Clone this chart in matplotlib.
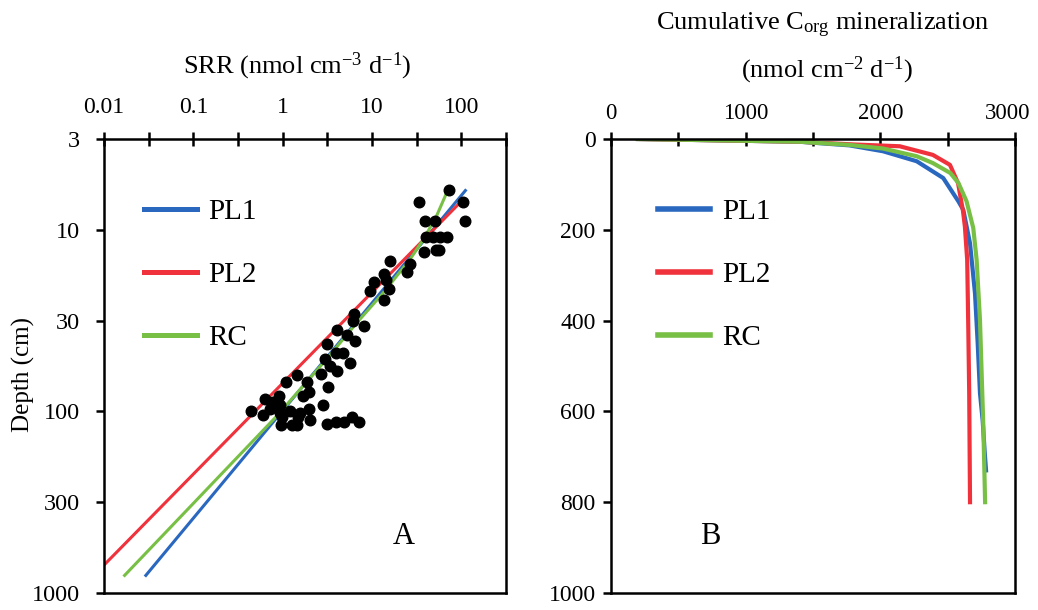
import matplotlib
matplotlib.use("Agg")
import matplotlib.pyplot as plt
import matplotlib.transforms as mtransforms
import numpy as np

plt.rcParams['font.family'] = ['Liberation Serif', 'DejaVu Serif']
plt.rcParams['mathtext.fontset'] = 'custom'
plt.rcParams['mathtext.rm'] = 'Liberation Serif'
plt.rcParams['mathtext.it'] = 'Liberation Serif:italic'
plt.rcParams['mathtext.default'] = 'rm'

BLUE = '#2a68c0'
RED = '#f0323c'
GREEN = '#78c045'

# ---- panel A: measured SRR (depth cm, SRR nmol cm-3 d-1)
obs_depth = [6, 7, 7, 9, 9, 9, 11, 11, 11, 11, 13.2, 13, 13, 14.9, 15.5, 17, 17.5,
             19, 19.5, 21.8, 21.1, 24.2, 29.2, 31.8, 34, 35.7, 37.9, 41, 42.6,
             47.9, 47.9, 51.7, 53.9, 56.2, 59.7, 62.2, 63, 68.5, 68.5, 78.4, 73.6,
             82.6, 82.6, 85.7, 88.3, 92, 92, 98.9, 105, 102, 100, 102, 97.1, 94.7,
             97.1, 107, 107, 111, 119, 119, 119, 117.5, 114.5, 114.5, 107.7, 114.5]
obs_srr = [72.6, 33.6, 104, 109, 38.9, 50.3, 40.6, 48.1, 57.1, 68.9, 38.2, 52.5, 56.1,
           16.1, 26.9, 24.7, 13.8, 14.3, 10.6, 9.5, 15.6, 13.8, 6.3, 6.2, 8.1, 4.1,
           5.2, 6.4, 3.1, 4.0, 4.7, 3.0, 5.7, 3.4, 4.1, 2.7, 1.44, 1.10, 1.87, 1.95,
           3.25, 1.71, 0.90, 0.64, 0.78, 0.94, 2.86, 0.44, 0.60, 0.94, 1.22, 1.57,
           0.73, 0.83, 1.95, 0.98, 1.50, 2.03, 0.96, 1.27, 1.44, 3.17, 4.0, 4.8,
           5.9, 7.2]

# model curves
pl1_depth = [6.08, 800]
pl1_srr = [111, 0.0294]
pl2_depth = [7.13, 800]
pl2_srr = [95.5, 0.0077]
rc_depth = [6.03, 8.45, 11.4, 14.6, 22.3, 32.6, 54, 106, 172, 800]
rc_srr = [70.7, 52.5, 37.2, 26.5, 13.3, 6.73, 2.86, 0.86, 0.336, 0.017]

# ---- panel B: cumulative Corg mineralization
cum_pl1_depth = [0, 3, 6, 14, 27, 49, 86, 137, 156, 230, 340, 450, 560, 620, 690, 730]
cum_pl1 = [200, 800, 1400, 1770, 2020, 2270, 2467, 2579, 2616, 2666, 2703, 2723, 2740, 2760, 2775, 2785]
cum_pl2_depth = [0, 3, 6, 12, 16, 35, 57, 97, 159, 193, 266, 413, 560, 800]
cum_pl2 = [200, 800, 1400, 1800, 2144, 2390, 2517, 2577, 2614, 2628, 2645, 2653, 2660, 2666]
cum_rc_depth = [0, 3, 6, 13, 21, 38, 53, 75, 97, 137, 196, 266, 399, 523, 634, 800]
cum_rc = [200, 800, 1400, 1770, 2020, 2270, 2390, 2520, 2580, 2640, 2690, 2715, 2740, 2753, 2765, 2778]

fig = plt.figure(figsize=(10.38, 6.10), dpi=100)
W, H = 1038, 610
ax1 = fig.add_axes([104 / W, 1 - 593 / H, 402 / W, 454 / H])
ax2 = fig.add_axes([611 / W, 1 - 593 / H, 404 / W, 454 / H])

# panel A
ax1.plot(pl1_srr, pl1_depth, color=BLUE, lw=2.2, label='PL1')
ax1.plot(pl2_srr, pl2_depth, color=RED, lw=2.2, label='PL2')
ax1.plot(rc_srr, rc_depth, color=GREEN, lw=2.2, label='RC')
ax1.scatter(obs_srr, obs_depth, s=58, color='black', zorder=5)
ax1.set_xscale('log')
ax1.set_yscale('log')
ax1.set_xlim(0.01, 10 ** 2.5)
ax1.set_ylim(1000, 10 ** 0.5)
ax1.xaxis.tick_top()
ax1.minorticks_off()
ax1.set_xticks(10 ** (np.arange(-4, 6) / 2))
ax1.set_xticklabels(['0.01', '', '0.1', '', '1', '', '10', '', '100', ''])
ax1.set_yticks(10 ** (np.arange(1, 7) / 2))
ax1.set_yticklabels(['3', '10', '30', '100', '300', '1000'])
ax1.tick_params(axis='x', direction='inout', length=10, width=1.8, pad=10, labelsize=17)
ax1.tick_params(axis='y', direction='out', length=6, width=1.8, pad=11, labelsize=17.5)
ax1.minorticks_off()
leg1 = ax1.legend(loc='upper left', bbox_to_anchor=(0.1, 0.868), frameon=False,
                  fontsize=21, handlelength=1.8, handletextpad=0.4,
                  labelspacing=1.25, borderaxespad=0, borderpad=0)
for h in leg1.get_lines():
    h.set_linewidth(3.6)

# panel B
ax2.plot(cum_pl1, cum_pl1_depth, color=BLUE, lw=3, label='PL1')
ax2.plot(cum_pl2, cum_pl2_depth, color=RED, lw=3, label='PL2')
ax2.plot(cum_rc, cum_rc_depth, color=GREEN, lw=3, label='RC')
ax2.set_xlim(0, 3000)
ax2.set_ylim(1000, 0)
ax2.xaxis.tick_top()
ax2.set_xticks(np.arange(0, 3001, 500))
ax2.set_xticklabels(['0', '', '1000', '', '2000', '', '3000'])
ax2.set_yticks(np.arange(0, 1001, 200))
ax2.tick_params(axis='x', direction='inout', length=10, width=1.8, pad=6, labelsize=16.5)
ax2.tick_params(axis='y', direction='out', length=6, width=1.8, pad=5, labelsize=17)
# keep the last label inside the figure, as in the source
last = ax2.get_xticklabels()[-1]
last.set_transform(last.get_transform() +
                   mtransforms.ScaledTranslation(-7 / 100, 0, fig.dpi_scale_trans))
leg2 = ax2.legend(loc='upper left', bbox_to_anchor=(0.116, 0.868), frameon=False,
                  fontsize=21, handlelength=1.8, handletextpad=0.4,
                  labelspacing=1.25, borderaxespad=0, borderpad=0)
for h in leg2.get_lines():
    h.set_linewidth(4)

for ax in (ax1, ax2):
    for sp in ax.spines.values():
        sp.set_linewidth(1.8)

# panel letters
fig.text(404 / W, 1 - 537 / H, 'A', fontsize=22, ha='center', va='center')
fig.text(710 / W, 1 - 537 / H, 'B', fontsize=22, ha='center', va='center')

# axis titles
fig.text(297 / W, 1 - 66 / H, 'SRR (nmol cm$^{-3}$ d$^{-1}$)', fontsize=19,
         ha='center', va='center')
fig.text(823 / W, 1 - 25 / H, 'Cumulative C$_{org}$ mineralization', fontsize=19,
         ha='center', va='center')
fig.text(827 / W, 1 - 70 / H, '(nmol cm$^{-2}$ d$^{-1}$)', fontsize=19,
         ha='center', va='center')
fig.text(23 / W, 1 - 375 / H, 'Depth (cm)', fontsize=18, rotation=90,
         ha='center', va='center')

fig.savefig('out.png', dpi=100)
